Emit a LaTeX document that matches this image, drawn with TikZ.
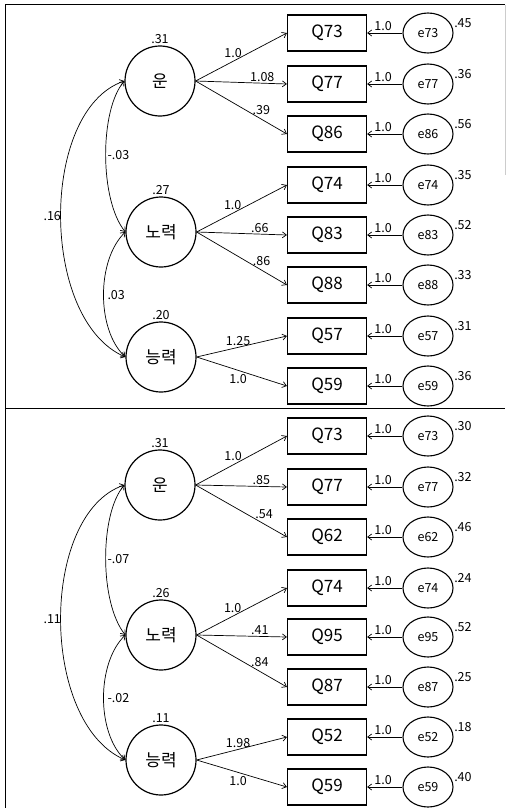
\documentclass[tikz,border=0pt]{standalone}
\usepackage{fontspec}
\setmainfont{Noto Sans CJK KR}
\usepackage{tikz}
\usetikzlibrary{calc,arrows.meta,shapes.geometric}

\begin{document}
\begin{tikzpicture}[x=1pt, y=-1pt,
  latent/.style={circle, draw, line width=1.2pt, minimum size=70pt, inner sep=0pt,
    font=\fontsize{17}{17}\selectfont},
  item/.style={rectangle, draw, line width=1.2pt, minimum width=79pt, minimum height=36pt,
    inner sep=0pt, font=\fontsize{17}{17}\selectfont},
  err/.style={ellipse, draw, line width=1.1pt, minimum width=50pt, minimum height=40pt,
    inner sep=0pt, font=\fontsize{12.5}{12.5}\selectfont},
  lbl/.style={font=\fontsize{12.5}{12.5}\selectfont, inner sep=1.5pt},
  arr/.style={-{Straight Barb[length=4pt, width=6pt]}, line width=0.7pt},
  cov/.style={{Straight Barb[length=4pt, width=6pt]}-{Straight Barb[length=4pt, width=6pt]}, line width=0.7pt}
]
  \useasboundingbox (0,0) rectangle (506,808);
  % frame
  \draw[line width=1pt] (5,808) -- (5,5) -- (505,5);
  \draw[gray!40, line width=0.8pt] (505,5) -- (505,175);
  \draw[line width=1pt] (5,408) -- (505,408);

  % ---- upper model ----
  \node[latent] (un1) at (160,81) {운};
  \node[latent] (no1) at (161,232) {노력};
  \node[latent] (ne1) at (161,357) {능력};
  \node[lbl, above] at (un1.north) {.31};
  \node[lbl, above] at (no1.north) {.27};
  \node[lbl, above] at (ne1.north) {.20};

  \foreach \i/\y/\q/\v in {1/33/73/.45, 2/84/77/.36, 3/134/86/.56, 4/185/74/.35,
                            5/235/83/.52, 6/285/88/.33, 7/336/57/.31, 8/386/59/.36} {
    \node[item] (t\i) at (327,\y) {Q\q};
    \node[err] (et\i) at (428,\y) {e\q};
    \node[lbl, anchor=west] at ($(et\i.east)+(-1,-10)$) {\v};
    \draw[arr] (et\i) -- node[lbl, above, pos=0.55] {1.0} (t\i);
  }

  \draw[arr] (un1.east) -- node[lbl, above=2pt, pos=0.41] {1.0} (t1.west);
  \draw[arr] (un1.east) -- node[lbl, above, pos=0.73] {1.08} (t2.west);
  \draw[arr] (un1.east) -- node[lbl, above=3pt, pos=0.72] {.39} (t3.west);
  \draw[arr] (no1.east) -- node[lbl, above=2pt, pos=0.40] {1.0} (t4.west);
  \draw[arr] (no1.east) -- node[lbl, above, pos=0.70] {.66} (t5.west);
  \draw[arr] (no1.east) -- node[lbl, above=3pt, pos=0.72] {.86} (t6.west);
  \draw[arr] (ne1.east) -- node[lbl, above, pos=0.46] {1.25} (t7.west);
  \draw[arr] (ne1.east) -- node[lbl, below=2pt, pos=0.46] {1.0} (t8.west);

  \draw[cov] (un1.west) .. controls +(-85,29) and +(-86,-37) .. (ne1.west)
    node[lbl, pos=0.5, anchor=east, xshift=2pt] {.16};
  \draw[cov] (un1.west) .. controls +(-25,29) and +(-26,-32) .. (no1.west)
    node[lbl, pos=0.5, anchor=west] {-.03};
  \draw[cov] (no1.west) .. controls +(-29,28) and +(-29,-27) .. (ne1.west)
    node[lbl, pos=0.5, anchor=west, xshift=2pt] {.03};

  % ---- lower model ----
  \node[latent] (un2) at (160,485) {운};
  \node[latent] (no2) at (161,635) {노력};
  \node[latent] (ne2) at (161,760) {능력};
  \node[lbl, above] at (un2.north) {.31};
  \node[lbl, above] at (no2.north) {.26};
  \node[lbl, above] at (ne2.north) {.11};

  \foreach \i/\y/\q/\v in {1/436/73/.30, 2/487/77/.32, 3/537/62/.46, 4/588/74/.24,
                            5/637/95/.52, 6/687/87/.25, 7/737/52/.18, 8/787/59/.40} {
    \node[item] (b\i) at (327,\y) {Q\q};
    \node[err] (eb\i) at (428,\y) {e\q};
    \node[lbl, anchor=west] at ($(eb\i.east)+(-1,-10)$) {\v};
    \draw[arr] (eb\i) -- node[lbl, above, pos=0.55] {1.0} (b\i);
  }

  \draw[arr] (un2.east) -- node[lbl, above=2pt, pos=0.41] {1.0} (b1.west);
  \draw[arr] (un2.east) -- node[lbl, above, pos=0.72] {.85} (b2.west);
  \draw[arr] (un2.east) -- node[lbl, above=3pt, pos=0.75] {.54} (b3.west);
  \draw[arr] (no2.east) -- node[lbl, above=2pt, pos=0.40] {1.0} (b4.west);
  \draw[arr] (no2.east) -- node[lbl, above, pos=0.70] {.41} (b5.west);
  \draw[arr] (no2.east) -- node[lbl, above=3pt, pos=0.70] {.84} (b6.west);
  \draw[arr] (ne2.east) -- node[lbl, above, pos=0.46] {1.98} (b7.west);
  \draw[arr] (ne2.east) -- node[lbl, below=2pt, pos=0.46] {1.0} (b8.west);

  \draw[cov] (un2.west) .. controls +(-85,29) and +(-86,-37) .. (ne2.west)
    node[lbl, pos=0.5, anchor=east, xshift=2pt] {.11};
  \draw[cov] (un2.west) .. controls +(-25,29) and +(-26,-32) .. (no2.west)
    node[lbl, pos=0.5, anchor=west] {-.07};
  \draw[cov] (no2.west) .. controls +(-29,28) and +(-29,-27) .. (ne2.west)
    node[lbl, pos=0.5, anchor=west, xshift=2pt] {-.02};
\end{tikzpicture}
\end{document}
